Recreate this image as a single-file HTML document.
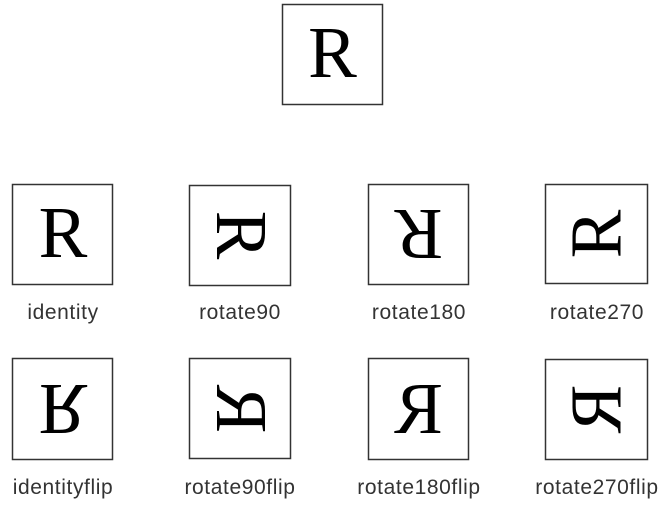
<!DOCTYPE html>
<html><head><meta charset="utf-8"><style>
html,body{margin:0;padding:0;background:#fff;}
svg{display:block;}
</style></head><body>
<svg width="670" height="510" viewBox="0 0 670 510" xmlns="http://www.w3.org/2000/svg">
<defs>
<style>
.b{fill:#fff;stroke:#333;stroke-width:1.5;}
.r{font-family:"Liberation Serif",serif;font-size:73px;fill:#000;}
.l{font-family:"Liberation Sans",sans-serif;font-size:21px;fill:#333;letter-spacing:0.6px;}
</style>
</defs>
<rect class="b" x="282.5" y="4.5" width="100" height="100"/>
<g transform="translate(332.5,53)"><text class="r" x="0" y="24" text-anchor="middle">R</text></g>

<rect class="b" x="12.5" y="184.5" width="100" height="100"/>
<g transform="translate(63,233)"><text class="r" x="0" y="24" text-anchor="middle">R</text></g>
<text class="l" x="63" y="319" text-anchor="middle">identity</text>

<rect class="b" x="189.5" y="185.5" width="101" height="100"/>
<g transform="translate(241,235) rotate(90)"><text class="r" x="0" y="24" text-anchor="middle">R</text></g>
<text class="l" x="240" y="319" text-anchor="middle">rotate90</text>

<rect class="b" x="368.5" y="184.5" width="100" height="100"/>
<g transform="translate(418.5,234) rotate(180)"><text class="r" x="0" y="24" text-anchor="middle">R</text></g>
<text class="l" x="419" y="319" text-anchor="middle">rotate180</text>

<rect class="b" x="545.5" y="184.5" width="102" height="99"/>
<g transform="translate(596.5,234) rotate(-90)"><text class="r" x="0" y="24" text-anchor="middle">R</text></g>
<text class="l" x="597" y="319" text-anchor="middle">rotate270</text>

<rect class="b" x="12.5" y="358.5" width="100" height="101"/>
<g transform="translate(63,409) scale(1,-1)"><text class="r" x="0" y="24" text-anchor="middle">R</text></g>
<text class="l" x="63" y="494" text-anchor="middle">identityflip</text>

<rect class="b" x="189.5" y="358.5" width="101" height="100"/>
<g transform="translate(241,409) scale(1,-1) rotate(90)"><text class="r" x="0" y="24" text-anchor="middle">R</text></g>
<text class="l" x="240" y="494" text-anchor="middle">rotate90flip</text>

<rect class="b" x="368.5" y="358.5" width="100" height="101"/>
<g transform="translate(418.5,409) scale(-1,1)"><text class="r" x="0" y="24" text-anchor="middle">R</text></g>
<text class="l" x="419" y="494" text-anchor="middle">rotate180flip</text>

<rect class="b" x="545.5" y="359.5" width="102" height="100"/>
<g transform="translate(596.5,409) scale(1,-1) rotate(-90)"><text class="r" x="0" y="24" text-anchor="middle">R</text></g>
<text class="l" x="597" y="494" text-anchor="middle">rotate270flip</text>
</svg>
</body></html>
